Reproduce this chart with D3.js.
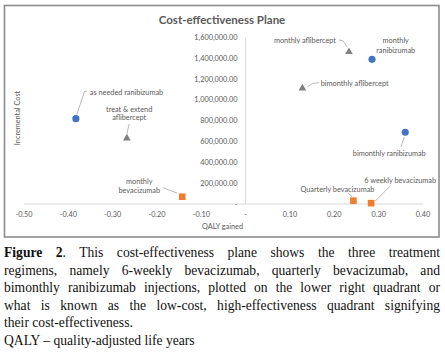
<!DOCTYPE html>
<html>
<head>
<meta charset="utf-8">
<script src="https://cdn.jsdelivr.net/npm/d3@7"></script>
<style>
  body { margin: 0; background: #fff; }
  #wrap { position: relative; width: 445px; height: 353px; overflow: hidden; }
  #chart { position: absolute; left: 0; top: 0; }
  #caption {
    position: absolute; left: 4px; top: 244px; width: 436px;
    font-family: "Liberation Serif", "DejaVu Serif", serif;
    font-size: 13.6px; line-height: 17.5px; color: #111;
  }
  #caption .j { text-align: justify; text-align-last: justify; white-space: nowrap; }
  #caption .l { text-align: left; white-space: nowrap; }
  .tick-label, .lbl { font-family: Lato, "Open Sans", sans-serif; fill: #595959; }
</style>
</head>
<body>
<div id="wrap">
  <div id="chart"></div>
  <div id="caption"></div>
</div>
<script>
// regimen data
const names = ["as needed ranibizumab", "treat & extend aflibercept", "monthly bevacizumab",
    "Quarterly bevacizumab", "6 weekly bevacizumab", "bimonthly ranibizumab",
    "monthly aflibercept", "monthly ranibizumab", "bimonthly aflibercept"];
const drugs = ["ranibizumab", "aflibercept", "bevacizumab",
    "bevacizumab", "bevacizumab", "ranibizumab",
    "aflibercept", "ranibizumab", "aflibercept"];
const qalyGained = [-0.383, -0.268, -0.143, 0.243, 0.283, 0.36, 0.233, 0.285, 0.128];
const incrementalCost = [820000, 640000, 70000, 32000, 8000, 690000, 1470000, 1390000, 1120000];

const xTicks = [-0.5, -0.4, -0.3, -0.2, -0.1, 0, 0.1, 0.2, 0.3, 0.4];
const yTicks = [0, 200000, 400000, 600000, 800000, 1000000, 1200000, 1400000, 1600000];

const captionLines = [
    "<b>Figure 2</b>. This cost-effectiveness plane shows the three treatment",
    "regimens, namely 6-weekly bevacizumab, quarterly bevacizumab, and",
    "bimonthly ranibizumab injections, plotted on the lower right quadrant or",
    "what is known as the low-cost, high-effectiveness quadrant signifying",
    "their cost-effectiveness.",
    "QALY \u2013 quality-adjusted life years"
];

// label placement relative to each point (pixels), kept apart from data
const labelLayout = [
    { dx: 14, dy: [-26.5], anchor: "start", leader: [[1, -4], [8.5, -27], [11, -27.5]] },
    { dx: 2.3, dy: [-28.4, -19.7], anchor: "middle", lines: ["treat & extend", "aflibercept"], leader: [[2.3, -13.4], [0, -3.5]] },
    { dx: -43, dy: [-15, -6], anchor: "middle", lines: ["monthly", "bevacizumab"], leader: [[-19, -9], [-5, -3.5]] },
    { dx: -16, dy: [-11.4], anchor: "middle", leader: [[-5, -7], [-1, -4]] },
    { dx: 29, dy: [-22.5], anchor: "middle", leader: [[19, -17], [4, -2]] },
    { dx: -16, dy: [21.3], anchor: "middle", leader: [[-1, 5], [-4.3, 14.7]] },
    { dx: -13, dy: [-10.3], anchor: "end", leader: [[-10, -11], [-6, -10.3], [-2, -4.3]] },
    { dx: 23.7, dy: [-18.4, -8.7], anchor: "middle", lines: ["monthly", "ranibizumab"] },
    { dx: 18.3, dy: [-4], anchor: "start", leader: [[16.3, -4.7], [10.3, -4.1], [5, -0.7]] }
];

const data = names.map((n, i) => ({
    name: n, drug: drugs[i], qaly: qalyGained[i], cost: incrementalCost[i], layout: labelLayout[i]
}));

const W = 445, H = 353;

const svg = d3.select("#chart").append("svg")
    .attr("width", W)
    .attr("height", H);

// chart border
svg.append("rect")
    .attr("x", 4.5).attr("y", 5.5)
    .attr("width", 434.5).attr("height", 231.5)
    .attr("fill", "#fff")
    .attr("stroke", "#8c8c8c")
    .attr("stroke-width", 1.6);

const x = d3.scaleLinear().domain([-0.5, 0.4]).range([24, 423]);
const y = d3.scaleLinear().domain([0, 1600000]).range([204, 37.5]);

const fmtX = v => Math.abs(v) < 1e-9 ? "-" : d3.format(".2f")(v).replace("\u2212", "-");
const fmtY = v => v === 0 ? "-" : d3.format(",.2f")(v);

// axis lines crossing at zero
svg.append("line")
    .attr("x1", x(-0.5)).attr("x2", x(0.4))
    .attr("y1", y(0)).attr("y2", y(0))
    .attr("stroke", "#d9d9d9").attr("stroke-width", 1);

svg.append("line")
    .attr("x1", x(0)).attr("x2", x(0))
    .attr("y1", y(1600000)).attr("y2", y(0))
    .attr("stroke", "#d9d9d9").attr("stroke-width", 1);

svg.selectAll(".x-tick")
    .data(xTicks)
    .enter().append("text")
    .attr("class", "tick-label x-tick")
    .attr("x", d => x(d))
    .attr("y", 216.5)
    .attr("text-anchor", "middle")
    .attr("font-size", "7.3px")
    .text(fmtX);

svg.selectAll(".y-tick")
    .data(yTicks)
    .enter().append("text")
    .attr("class", "tick-label y-tick")
    .attr("x", 237.5)
    .attr("y", d => y(d) + 2.5)
    .attr("text-anchor", "end")
    .attr("font-size", "7.3px")
    .text(fmtY);

// titles
svg.append("text")
    .attr("x", 222)
    .attr("y", 24)
    .attr("text-anchor", "middle")
    .attr("font-family", "Lato, 'Open Sans', sans-serif")
    .attr("font-weight", "bold")
    .attr("font-size", "11.5px")
    .attr("fill", "#595959")
    .text("Cost-effectiveness Plane");

svg.append("text")
    .attr("class", "lbl")
    .attr("x", 222.5)
    .attr("y", 228.5)
    .attr("text-anchor", "middle")
    .attr("font-size", "7.3px")
    .text("QALY gained");

svg.append("text")
    .attr("class", "lbl")
    .attr("transform", "translate(19.5,118) rotate(-90)")
    .attr("text-anchor", "middle")
    .attr("font-size", "7.3px")
    .text("Incremental Cost");

// leader lines
const line = d3.line();
svg.append("g").selectAll("path")
    .data(data.filter(d => d.layout.leader))
    .enter().append("path")
    .attr("d", d => line(d.layout.leader.map(p => [x(d.qaly) + p[0], y(d.cost) + p[1]])))
    .attr("fill", "none")
    .attr("stroke", "#a6a6a6")
    .attr("stroke-width", 0.8);

// markers
const colors = { ranibizumab: "#4472c4", aflibercept: "#7f7f7f", bevacizumab: "#ed7d31" };
const markers = svg.append("g");

markers.selectAll(".pt")
    .data(data)
    .enter().append("path")
    .attr("class", "pt")
    .attr("transform", d => "translate(" + x(d.qaly) + "," + y(d.cost) + ")")
    .attr("d", d => {
        if (d.drug === "ranibizumab") return d3.symbol(d3.symbolCircle, 40)();
        if (d.drug === "bevacizumab") return "M-3.3,-3.3H3.3V3.3H-3.3Z";
        return "M0,-3.6L3.8,3L-3.8,3Z";
    })
    .attr("fill", d => colors[d.drug]);

// point labels
const labels = svg.append("g");
data.forEach(d => {
    const lay = d.layout;
    const lines = lay.lines || [d.name];
    lines.forEach((t, k) => {
        labels.append("text")
            .attr("class", "lbl")
            .attr("x", x(d.qaly) + lay.dx)
            .attr("y", y(d.cost) + lay.dy[k] + 2.5)
            .attr("text-anchor", lay.anchor)
            .attr("font-size", "7.3px")
            .text(t);
    });
});

// caption
d3.select("#caption").selectAll("div")
    .data(captionLines)
    .enter().append("div")
    .attr("class", (d, i) => i < 4 ? "j" : "l")
    .html(d => d);
</script>
</body>
</html>
